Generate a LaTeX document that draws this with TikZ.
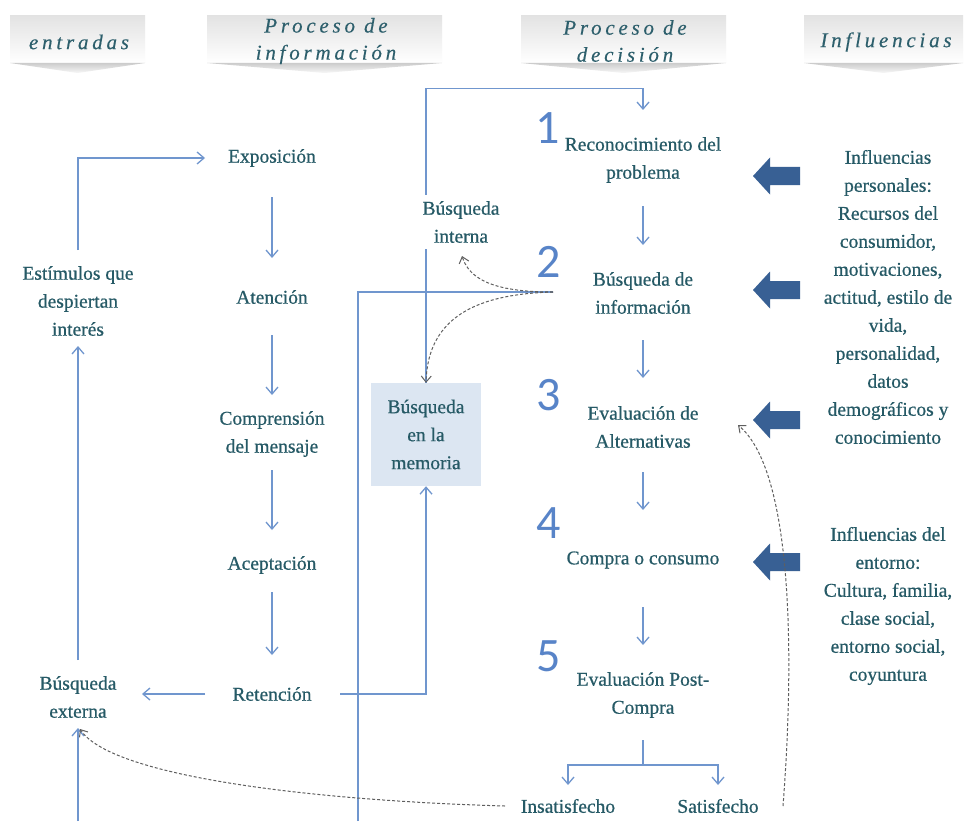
\documentclass[tikz,border=0pt]{standalone}
\usepackage{fontspec}
\setmainfont{Liberation Serif}
\newfontfamily\numfont{Carlito}
\usetikzlibrary{arrows.meta,calc}
\pgfdeclarelayer{background}
\pgfdeclarelayer{backdrop}
\pgfsetlayers{backdrop,background,main}
\definecolor{txt}{RGB}{38,90,102}
\definecolor{hdtxt}{RGB}{45,95,108}
\definecolor{ln}{RGB}{112,150,206}
\definecolor{blk}{RGB}{56,96,148}
\definecolor{numc}{RGB}{88,132,200}
\definecolor{memfill}{RGB}{220,230,242}
\definecolor{dashc}{RGB}{95,95,95}
\newcommand\mybanner[2]{%
  \shade[top color=gray!22,bottom color=white] (#1,16) rectangle (#2,63);
  \shade[top color=gray!40,bottom color=gray!6] (#1,63) -- (#2,63) -- ({(#1+#2)/2},73) -- cycle;
}
\begin{document}
\begin{tikzpicture}[x=1pt,y=-1pt,
  lbl/.style={text=txt,font=\fontsize{19.5}{28}\selectfont\addfontfeature{FakeBold=0.6},align=center,inner sep=2pt},
  hdr/.style={text=hdtxt,font=\fontsize{21}{27}\selectfont\itshape\addfontfeature{LetterSpace=18,FakeBold=0.3},align=center,inner sep=0pt},
  numst/.style={text=numc,font=\numfont\fontsize{48}{48}\selectfont,inner sep=0pt},
  ln/.style={draw=ln,line width=1.3pt},
  ar/.style={ln,-{Straight Barb[length=7pt,width=12pt]}},
  dsh/.style={draw=dashc,line width=1pt,densely dashed,-{Straight Barb[length=6pt,width=10pt,line width=1pt]}},
  bigarr/.pic={\fill[blk] (0,0) -- (17,-18.5) -- (17,-9) -- (47,-9) -- (47,9) -- (17,9) -- (17,18.5) -- cycle;}
]
\useasboundingbox (0,0) rectangle (965,821);
\begin{pgfonlayer}{backdrop}
\fill[white] (0,0) rectangle (965,821);
\end{pgfonlayer}

% headers
\mybanner{10}{145}
\mybanner{207}{442}
\mybanner{521}{726}
\mybanner{804}{963}
\node[hdr] (h1) at (79,42) {entradas};
\node[hdr] (h2) at (326,41) {Proceso de\\información};
\node[hdr] (h3) at (625,41) {Proceso de\\decisión};
\node[hdr] (h4) at (886,42) {Influencias};

% information process
\node[lbl] (expo) at (272,158) {Exposición};
\node[lbl] (aten) at (272,297) {Atención};
\node[lbl] (comp) at (272,434) {Comprensión\\del mensaje};
\node[lbl] (acep) at (272,565) {Aceptación};
\node[lbl] (ret) at (272,694) {Retención};

% inputs
\node[lbl] (estim) at (78,301) {Estímulos que\\despiertan\\interés};
\node[lbl] (bext) at (78,697) {Búsqueda\\externa};

% search
\node[lbl,fill=white,inner sep=6pt] (bint) at (461,222) {Búsqueda\\interna};
\node[lbl,fill=memfill,minimum width=110pt,minimum height=103pt] (bmem) at (426,434.5) {Búsqueda\\en la\\memoria};

% decision process
\node[lbl] (rec) at (643,160) {Reconocimiento del\\problema};
\node[lbl] (binf) at (643,293) {Búsqueda de\\información};
\node[lbl] (eval) at (643,427) {Evaluación de\\Alternativas};
\node[lbl] (compra) at (643,560) {Compra o consumo};
\node[lbl] (post) at (643,695) {Evaluación Post-\\Compra};
\node[lbl] (insat) at (568,806) {Insatisfecho};
\node[lbl] (sat) at (718,806) {Satisfecho};

\node[numst] (n1) at (548,128) {1};
\node[numst] (n2) at (549,262) {2};
\node[numst] (n3) at (549,395) {3};
\node[numst] (n4) at (549,523) {4};
\node[numst] (n5) at (549,656) {5};

% influences
\node[lbl] (infp) at (888,297) {Influencias\\personales:\\Recursos del\\consumidor,\\motivaciones,\\actitud, estilo de\\vida,\\personalidad,\\datos\\demográficos y\\conocimiento};
\node[lbl] (infe) at (888,606) {Influencias del\\entorno:\\Cultura, familia,\\clase social,\\entorno social,\\coyuntura};

\pic at (753,176) {bigarr};
\pic at (753,290) {bigarr};
\pic at (753,420) {bigarr};
\pic at (753,562) {bigarr};

\coordinate (src) at (553,292);
\coordinate (bot1) at (358,821);
\coordinate (bot2) at (78,821);

\begin{pgfonlayer}{background}
% information chain
\draw[ar] ($(expo.center)+(0,39)$) -- ($(aten.center)+(0,-39)$);
\draw[ar] ($(aten.center)+(0,38)$) -- ($(comp.center)+(0,-39)$);
\draw[ar] ($(comp.center)+(0,36)$) -- ($(acep.center)+(0,-35)$);
\draw[ar] ($(acep.center)+(0,27)$) -- ($(ret.center)+(0,-39)$);
% decision chain
\draw[ar] ($(rec.center)+(0,46)$) -- ($(binf.center)+(0,-48)$);
\draw[ar] ($(binf.center)+(0,47)$) -- ($(eval.center)+(0,-49)$);
\draw[ar] ($(eval.center)+(0,45)$) -- ($(compra.center)+(0,-50)$);
\draw[ar] ($(compra.center)+(0,47)$) -- ($(post.center)+(0,-50)$);
\coordinate (split) at ($(post.center)+(0,70)$);
\draw[ln] ($(post.center)+(0,45)$) -- (split);
\draw[ar] (split) -| ($(insat.center)+(0,-21)$);
\draw[ar] (split) -| ($(sat.center)+(0,-21)$);
% loops
\draw[ar] (bmem.north) -- ++(0,-294) -| ($(rec.center)+(0,-50)$);
\draw[ln] (bot1) |- (src);
\draw[ar] ($(ret.center)+(68,0)$) -| (bmem.south);
\draw[ar] ($(ret.center)+(-67,0)$) -- ($(bext.center)+(64,-3)$);
\draw[ar] ($(bext.center)+(0,-37)$) -- ($(estim.center)+(0,45)$);
\draw[ar] (bot2) -- ($(bext.center)+(0,31)$);
\draw[ar] ($(estim.center)+(0,-51)$) |- ($(expo.center)+(-67,0)$);
\end{pgfonlayer}

% dashed feedback curves
\draw[dsh] (src) .. controls (500,292) and (470,282) .. ($(bint.center)+(1,34)$);
\draw[dsh] (src) .. controls (480,294) and (428,315) .. (bmem.north);
\draw[dsh] ($(insat.center)+(-63,0)$) .. controls (300,800) and (110,775) .. ($(bext.center)+(2,32)$);
\draw[dsh] ($(sat.center)+(65,0)$) .. controls (795,650) and (792,470) .. ($(eval.center)+(95,-2)$);
\end{tikzpicture}
\end{document}
